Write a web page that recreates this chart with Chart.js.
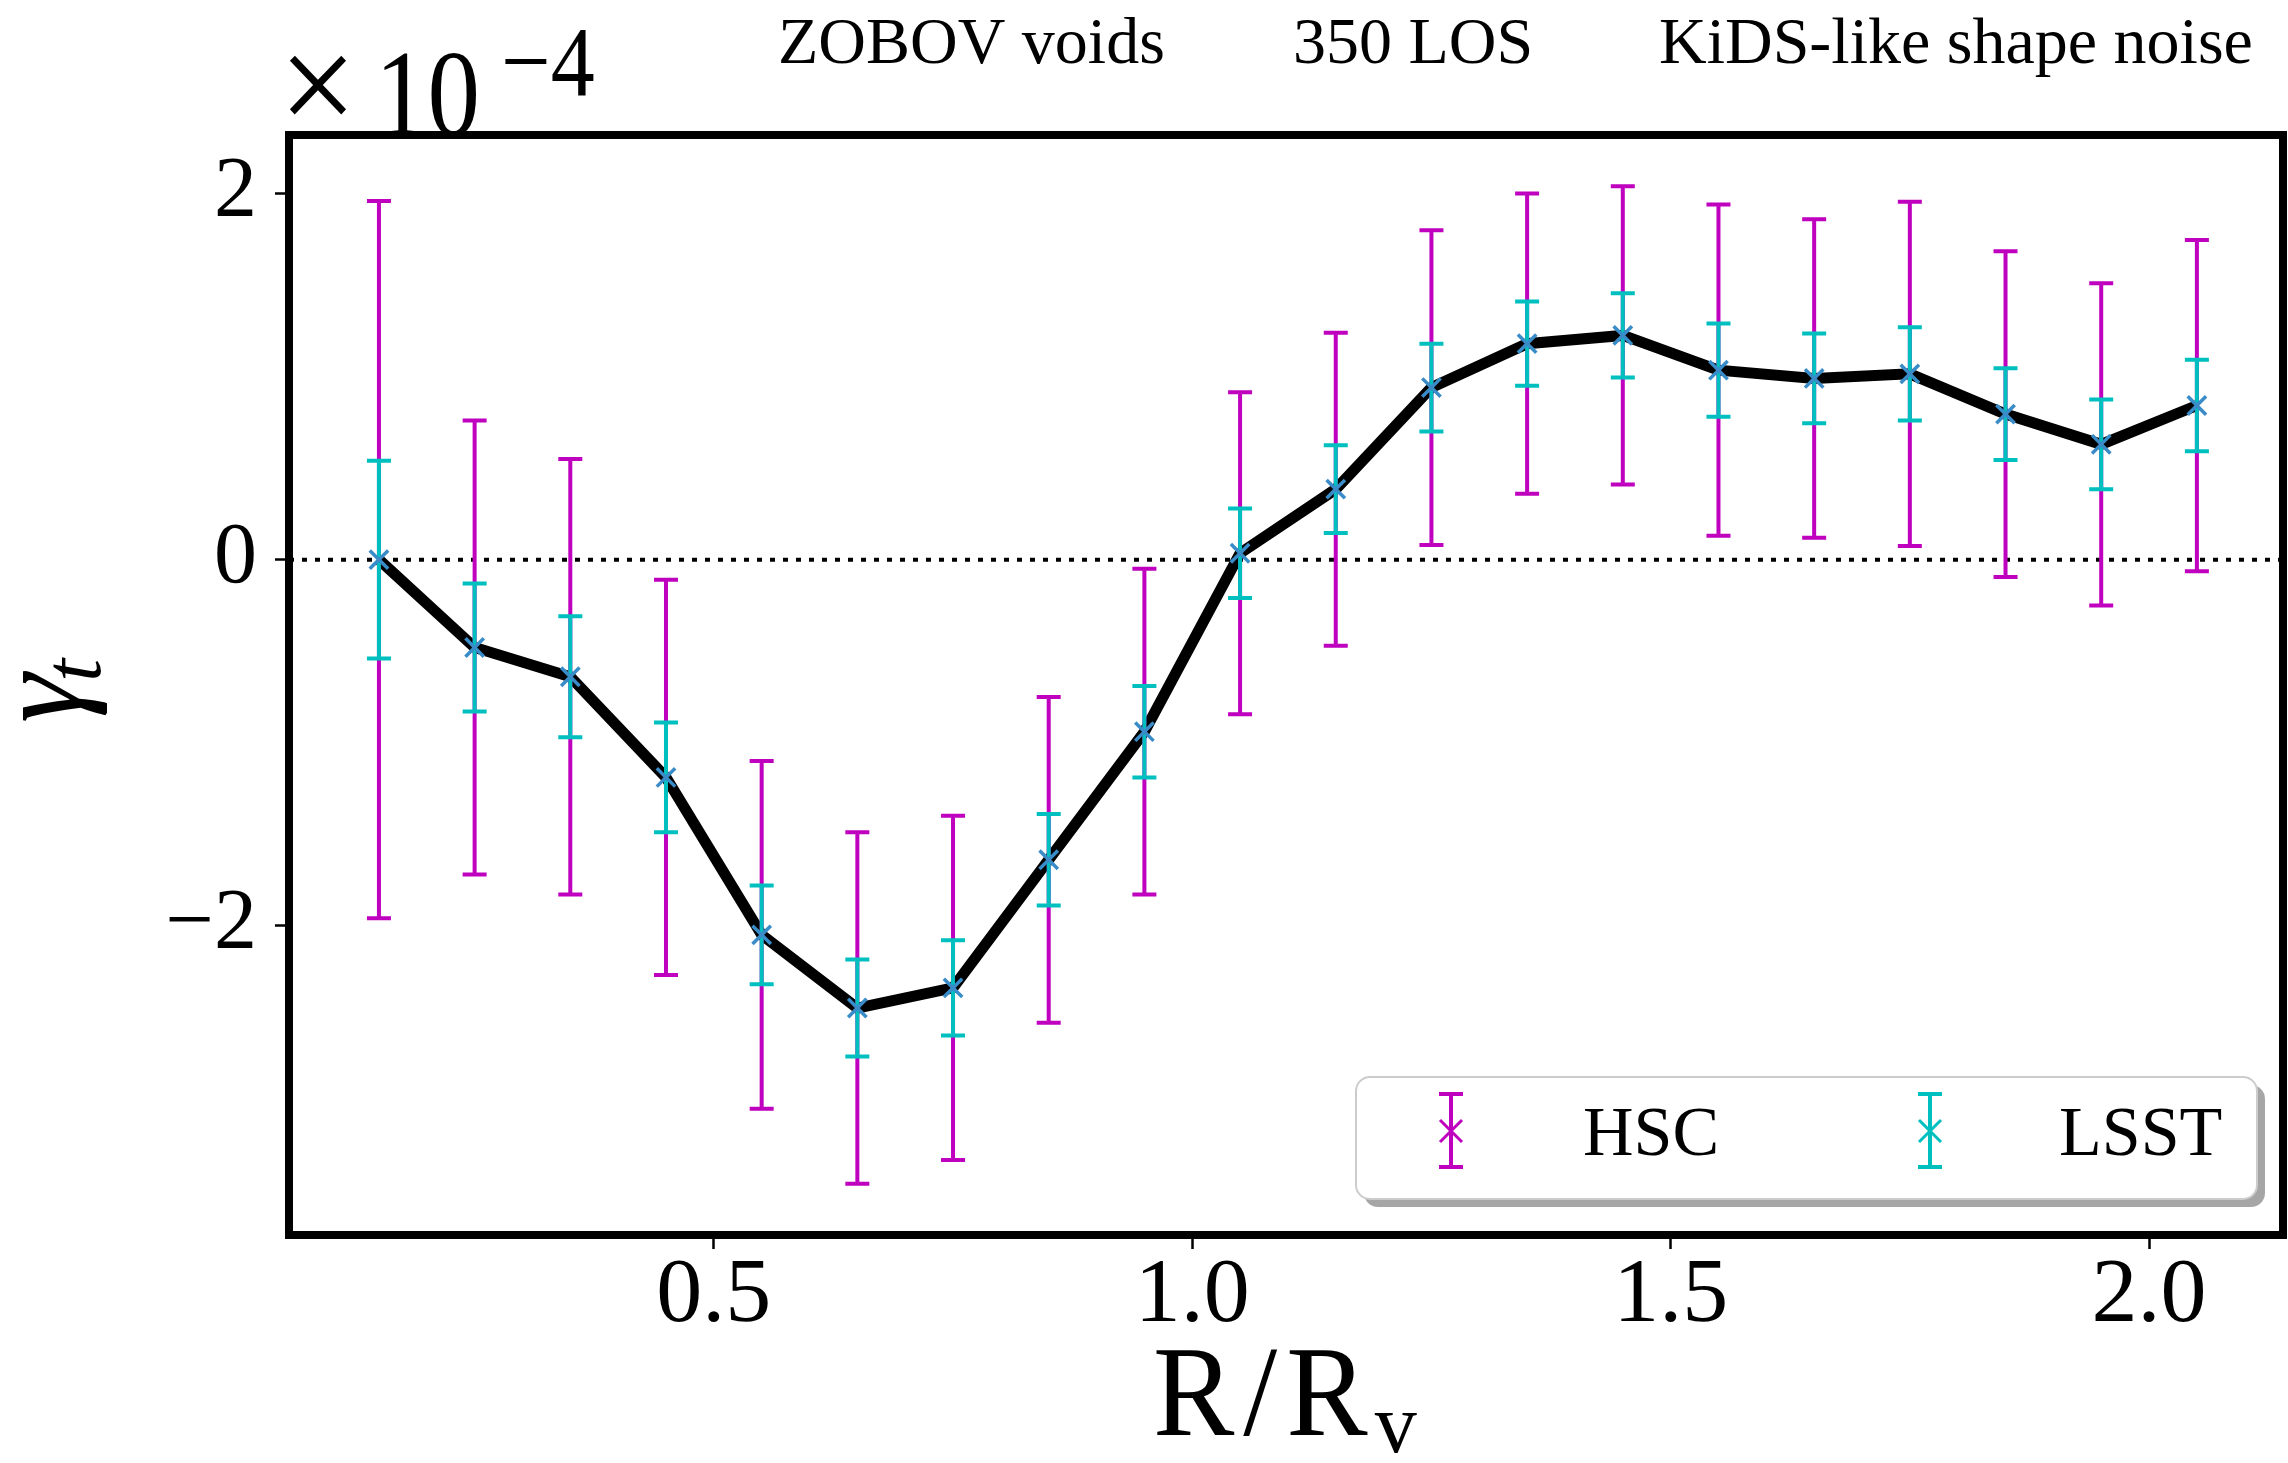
<!DOCTYPE html>
<html lang="en">
<head>
  <meta charset="UTF-8">
  <title>Tangential shear profile</title>
  <script src="https://cdn.jsdelivr.net/npm/chart.js"></script>
  <style>
    body { margin: 0; background: #fff; }
    canvas { display: block; }
  </style>
</head>
<body>
  <canvas id="shearChart" width="2288" height="1463" style="width:2288px;height:1463px"></canvas>

  <script>
    // --- data (gamma_t in units of 1e-4) ---
    const R_OVER_RV = [0.15, 0.25, 0.35, 0.45, 0.55, 0.65, 0.75, 0.85, 0.95, 1.05,
                       1.15, 1.25, 1.35, 1.45, 1.55, 1.65, 1.75, 1.85, 1.95, 2.05];
    const GAMMA_T   = [0.00, -0.48, -0.64, -1.19, -2.05, -2.45, -2.34, -1.64, -0.94, 0.035,
                       0.385, 0.94, 1.18, 1.225, 1.035, 0.99, 1.015, 0.795, 0.63, 0.842];
    const ERR_HSC   = [1.96, 1.24, 1.19, 1.08, 0.95, 0.96, 0.94, 0.89, 0.89, 0.88,
                       0.855, 0.86, 0.82, 0.815, 0.905, 0.87, 0.94, 0.89, 0.88, 0.905];
    const ERR_LSST  = [0.54, 0.35, 0.33, 0.30, 0.27, 0.265, 0.26, 0.25, 0.25, 0.245,
                       0.24, 0.24, 0.23, 0.23, 0.255, 0.245, 0.255, 0.25, 0.245, 0.25];
    const X_TICKS = [0.5, 1.0, 1.5, 2.0];
    const Y_TICKS = [-2, 0, 2];
    const X_RANGE = [0.056, 2.14];
    const Y_RANGE = [-3.69, 2.32];
    const TITLE_PARTS = ['ZOBOV voids', '350 LOS', 'KiDS-like shape noise'];
    const SERIES_NAMES = ['HSC', 'LSST'];

    const SERIF = "'Liberation Serif', 'DejaVu Serif', serif";
    const MAGENTA = '#bf00bf';
    const CYAN = '#00bfbf';
    const MARKER = '#3a8cc8';

    function fmtY(v) {
      if (v === 0) return '0';
      return v < 0 ? '\u2212' + Math.abs(v) : String(v);
    }

    // text with optional vertical stretch
    function drawText(ctx, txt, x, y, size, opts = {}) {
      ctx.save();
      ctx.font = (opts.italic ? 'italic ' : '') + size + 'px ' + SERIF;
      ctx.fillStyle = '#000';
      ctx.textAlign = opts.align || 'left';
      ctx.textBaseline = 'alphabetic';
      if (opts.spacing) ctx.letterSpacing = opts.spacing;
      ctx.translate(x, y);
      ctx.scale(1, opts.sy || 1);
      ctx.fillText(txt, 0, 0);
      const w = ctx.measureText(txt).width;
      ctx.restore();
      return w;
    }

    function drawCross(ctx, x, y, r, color, lw) {
      ctx.save();
      ctx.strokeStyle = color;
      ctx.lineWidth = lw;
      ctx.beginPath();
      ctx.moveTo(x - r, y - r); ctx.lineTo(x + r, y + r);
      ctx.moveTo(x - r, y + r); ctx.lineTo(x + r, y - r);
      ctx.stroke();
      ctx.restore();
    }

    function drawBar(ctx, x, yTop, yBot, color, lw, cap) {
      ctx.save();
      ctx.strokeStyle = color;
      ctx.lineWidth = lw;
      ctx.beginPath();
      ctx.moveTo(x, yTop); ctx.lineTo(x, yBot);
      ctx.moveTo(x - cap, yTop); ctx.lineTo(x + cap, yTop);
      ctx.moveTo(x - cap, yBot); ctx.lineTo(x + cap, yBot);
      ctx.stroke();
      ctx.restore();
    }

    // error bars, drawn right after the mean line so the markers sit on top
    const errorBars = {
      id: 'errorBars',
      afterDatasetDraw(chart, args) {
        if (args.index !== 1) return;
        const { ctx, scales: { x, y } } = chart;
        [[ERR_HSC, MAGENTA], [ERR_LSST, CYAN]].forEach(([err, color]) => {
          R_OVER_RV.forEach((r, i) => {
            const px = x.getPixelForValue(r);
            drawBar(ctx, px, y.getPixelForValue(GAMMA_T[i] + err[i]),
                    y.getPixelForValue(GAMMA_T[i] - err[i]), color, 4, 12);
          });
        });
      }
    };

    // frame, legend, titles and labels
    const decorations = {
      id: 'decorations',
      afterDraw(chart) {
        const { ctx, chartArea: a } = chart;
        const cx = (a.left + a.right) / 2;
        const cy = (a.top + a.bottom) / 2;

        // axes frame
        ctx.save();
        ctx.strokeStyle = '#000';
        ctx.lineWidth = 8;
        ctx.strokeRect(a.left, a.top, a.right - a.left, a.bottom - a.top);
        ctx.restore();

        // legend box with shadow
        const lx = a.right - 927, ly = a.bottom - 158, lw = 901, lh = 122;
        ctx.save();
        ctx.fillStyle = 'rgba(0,0,0,0.35)';
        ctx.beginPath(); ctx.roundRect(lx + 8, ly + 8, lw, lh, 14); ctx.fill();
        ctx.fillStyle = '#fff';
        ctx.strokeStyle = '#cccccc';
        ctx.lineWidth = 2;
        ctx.beginPath(); ctx.roundRect(lx, ly, lw, lh, 14); ctx.fill(); ctx.stroke();
        ctx.restore();
        [[MAGENTA, 95, 227], [CYAN, 574, 703]].forEach(([color, mx, tx], k) => {
          drawBar(ctx, lx + mx, ly + 17, ly + 90, color, 4, 12);
          drawCross(ctx, lx + mx, ly + 54, 11, color, 3);
          drawText(ctx, SERIES_NAMES[k], lx + tx, ly + 78, 70);
        });

        // top texts
        drawText(ctx, TITLE_PARTS[0], 778, 63, 66);
        drawText(ctx, TITLE_PARTS[1], 1293, 63, 66);
        drawText(ctx, TITLE_PARTS[2], 1659, 63, 66);

        // offset text x10^-4
        drawText(ctx, '\u00d7', a.left - 10, a.top - 2, 138, { sy: 1.05 });
        drawText(ctx, '10', a.left + 86, a.top, 105, { sy: 1.16 });
        drawText(ctx, '\u22124', a.left + 212, a.top - 40, 88, { sy: 1.14 });

        // x axis label R/R_v
        const w = drawText(ctx, 'R/R', cx - 133, 1435, 122, { spacing: '9px', sy: 1.06 });
        drawText(ctx, 'v', cx - 133 + w - 2, 1452, 84);

        // y axis label gamma_t (rotated)
        ctx.save();
        ctx.translate(80, cy);
        ctx.rotate(-Math.PI / 2);
        ctx.font = 'italic 125px ' + SERIF;
        ctx.fillStyle = '#000';
        ctx.textBaseline = 'alphabetic';
        const gw = ctx.measureText('\u03b3').width;
        ctx.fillText('\u03b3', -38, 0);
        ctx.font = 'italic 82px ' + SERIF;
        ctx.fillText('t', -38 + gw - 8, 20);
        ctx.restore();
      }
    };

    const ctx = document.getElementById('shearChart').getContext('2d');
    new Chart(ctx, {
      type: 'line',
      data: {
        datasets: [
          {
            label: 'zero',
            data: [{ x: X_RANGE[0], y: 0 }, { x: X_RANGE[1], y: 0 }],
            borderColor: '#000', borderWidth: 4, borderDash: [5, 8],
            pointRadius: 0, order: 4
          },
          {
            label: 'mean',
            data: R_OVER_RV.map((r, i) => ({ x: r, y: GAMMA_T[i] })),
            borderColor: '#000', borderWidth: 11, pointRadius: 0,
            tension: 0, order: 3
          },
          {
            label: 'markers',
            data: R_OVER_RV.map((r, i) => ({ x: r, y: GAMMA_T[i] })),
            showLine: false, pointStyle: 'crossRot', pointRadius: 13,
            pointBorderColor: MARKER, pointBorderWidth: 3.5, order: 1
          }
        ]
      },
      options: {
        responsive: false,
        animation: false,
        devicePixelRatio: 1,
        layout: { autoPadding: false, padding: { top: 135, right: 5, left: 0, bottom: 0 } },
        plugins: { legend: { display: false }, tooltip: { enabled: false } },
        scales: {
          x: {
            type: 'linear', min: X_RANGE[0], max: X_RANGE[1],
            afterBuildTicks: s => { s.ticks = X_TICKS.map(v => ({ value: v })); },
            afterFit: s => { s.height = 228; s.paddingLeft = 0; s.paddingRight = 0; },
            ticks: {
              callback: v => v.toFixed(1), color: '#000', padding: 2,
              maxRotation: 0, autoSkip: false,
              font: { family: SERIF, size: 92, lineHeight: 1 }
            },
            grid: { drawOnChartArea: false, tickLength: 14, tickWidth: 2.5, tickColor: '#000' },
            border: { display: false }
          },
          y: {
            min: Y_RANGE[0], max: Y_RANGE[1],
            afterBuildTicks: s => { s.ticks = Y_TICKS.map(v => ({ value: v })); },
            afterFit: s => { s.width = 289; s.paddingTop = 0; s.paddingBottom = 0; },
            ticks: {
              callback: v => fmtY(v), color: '#000', padding: 18,
              font: { family: SERIF, size: 86 }
            },
            grid: { drawOnChartArea: false, tickLength: 14, tickWidth: 2.5, tickColor: '#000' },
            border: { display: false }
          }
        }
      },
      plugins: [errorBars, decorations]
    });
  </script>
</body>
</html>
